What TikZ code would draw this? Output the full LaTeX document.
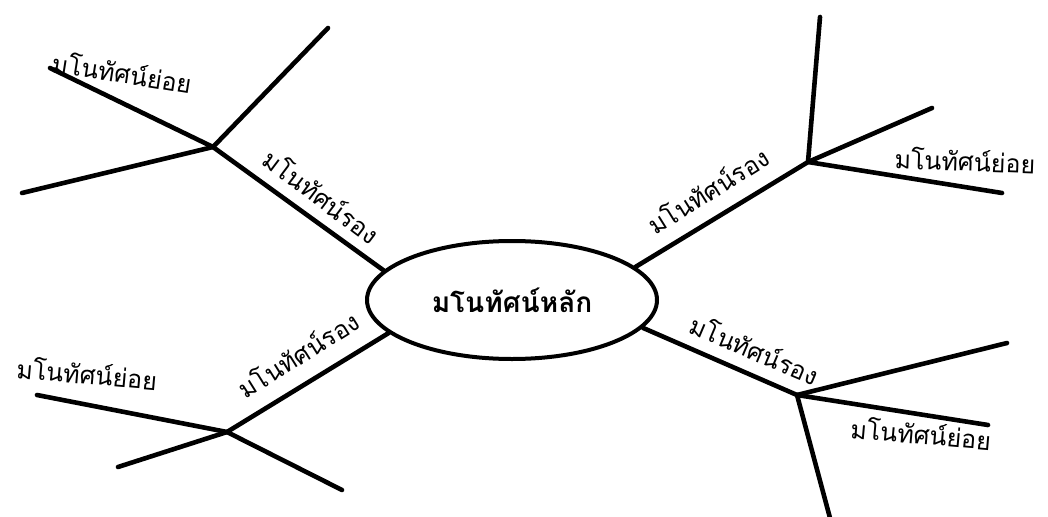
\documentclass[tikz,border=0pt]{standalone}
\usepackage{fontspec}
\usepackage{tikz}
\usetikzlibrary{shapes.geometric}
\newfontfamily\thaifont[Script=Thai]{Loma}

\begin{document}
\begin{tikzpicture}[x=1pt,y=-1pt,
    branch/.style={line width=4.6pt,line cap=round},
    lbl/.style={font=\thaifont\fontsize{25}{28}\selectfont,inner sep=0pt}]
  \useasboundingbox (0,0) rectangle (1048,516);
  % central idea
  \node[ellipse,draw,line width=4pt,minimum width=290pt,minimum height=118pt,
        font=\thaifont\bfseries\fontsize{28}{32}\selectfont] (main) at (512,300) {มโนทัศน์หลัก};
  % junctions
  \coordinate (ul) at (213,147);
  \coordinate (ur) at (808,162);
  \coordinate (ll) at (227,432);
  \coordinate (lr) at (797,395);
  % upper left
  \draw[branch] (main.167) -- (ul);
  \coordinate (ul1) at (328,28);
  \coordinate (ul2) at (50,68);
  \coordinate (ul3) at (22,193);
  \foreach \e in {ul1,ul2,ul3} \draw[branch] (ul) -- (\e);
  % upper right
  \draw[branch] (main.15) -- (ur);
  \coordinate (ur1) at (820,17);
  \coordinate (ur2) at (932,108);
  \coordinate (ur3) at (1002,193);
  \foreach \e in {ur1,ur2,ur3} \draw[branch] (ur) -- (\e);
  % lower left
  \draw[branch] (main.195) -- (ll);
  \coordinate (ll1) at (37,395);
  \coordinate (ll2) at (118,467);
  \coordinate (ll3) at (342,490);
  \foreach \e in {ll1,ll2,ll3} \draw[branch] (ll) -- (\e);
  % lower right
  \draw[branch] (main.348) -- (lr);
  \coordinate (lr1) at (1007,343);
  \coordinate (lr2) at (988,425);
  \coordinate (lr3) at (830,518);
  \foreach \e in {lr1,lr2,lr3} \draw[branch] (lr) -- (\e);
  % labels
  \node[lbl,rotate=-37] (tul) at (322,196) {มโนทัศน์รอง};
  \node[lbl,rotate=32] (tur) at (708,190) {มโนทัศน์รอง};
  \node[lbl,rotate=32] (tll) at (298,354) {มโนทัศน์รอง};
  \node[lbl,rotate=-23] (tlr) at (755,349) {มโนทัศน์รอง};
  \node[lbl,rotate=-9] (sul) at (122,72) {มโนทัศน์ย่อย};
  \node[lbl,rotate=-2] (sur) at (965,160) {มโนทัศน์ย่อย};
  \node[lbl,rotate=-5] (sll) at (87,373) {มโนทัศน์ย่อย};
  \node[lbl,rotate=-5] (slr) at (921,433) {มโนทัศน์ย่อย};
\end{tikzpicture}
\end{document}
